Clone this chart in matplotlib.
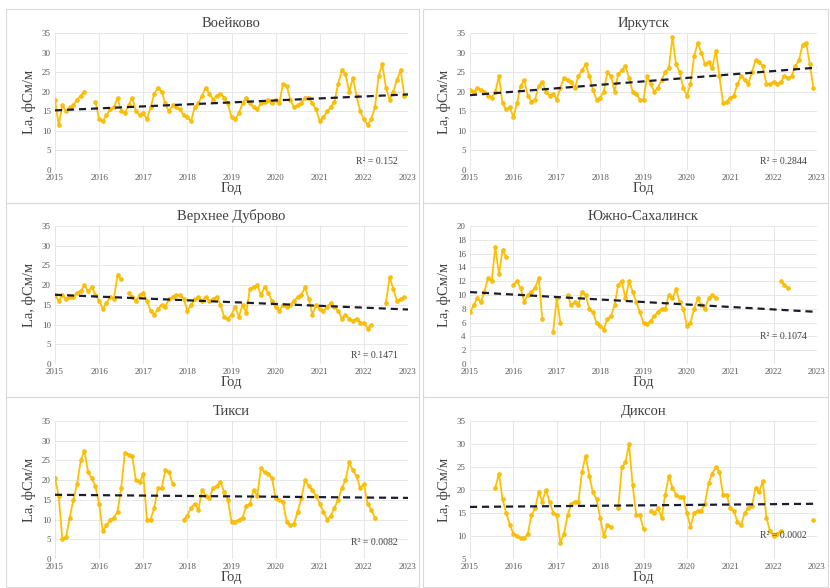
import numpy as np
import matplotlib
matplotlib.use("Agg")
import matplotlib.pyplot as plt
from matplotlib.patches import Rectangle

nan = np.nan

# monthly values from Jan 2015 to Dec 2022
voeikovo = [18, 11.5, 16.5, 15, 16, 16.5, 18, 19, 20, nan, nan, 17.5,
            13, 12.5, 14, 15.5, 16, 18.5, 15, 14.5, 16.5, 18.5, 15, 14,
            14.5, 13, 16, 19.5, 21, 20, 17, 15, 16.5, 16, 15.5, 14,
            13.5, 12.5, 16, 17, 19, 21, 19.5, 18, 19, 19.5, 18.5, 17,
            13.5, 13, 14.5, 17, 18.5, 17, 16, 15.5, 17, 17.5, 18, 17,
            18, 17, 22, 21.5, 18, 16, 16.5, 17, 18.5, 18.5, 17, 15.5,
            12.5, 13.5, 15, 16, 17.5, 22, 25.5, 24.5, 20, 23.5, 19, 15,
            13, 11.5, 13, 16, 24, 27, 21, 18, 20, 23, 25.5, 19]

irkutsk = [20.5, 20, 21, 20.5, 20, 19, 18.5, 20, 24, 17, 15.5, 16,
           13.5, 17, 21.5, 23, 19, 17.5, 18, 21.5, 22.5, 20, 19, 19.5,
           18, 21, 23.5, 23, 22.5, 21, 24, 25.5, 27, 24, 20.5, 18,
           18.5, 20, 25, 24, 20, 24.5, 25.5, 26.5, 23.5, 20, 19.5, 18,
           18, 24, 22, 20, 21, 23, 25, 26, 34, 27, 25, 21,
           19, 22, 29, 32.5, 30, 27, 27.5, 26, 30.5, 24, 17, 17.5,
           18.5, 19, 22, 24, 23, 22, 25, 28, 27.5, 26.5, 22, 22,
           22.5, 22, 22.5, 24, 23.5, 24, 26.5, 28, 32, 32.5, 27, 21]

dubrovo = [17.5, 16, 17.5, 16.5, 17, 17, 18, 18.5, 20, 18.5, 19.5, 17.5,
           16, 14, 15.5, 17, 16.5, 22.5, 21.5, nan, 18, 17, 16, 17.5,
           18, 16, 13.5, 12.5, 14, 15, 14.5, 16.5, 17, 17.5, 17.5, 16.5,
           13.5, 15, 16.5, 17, 16, 17, 16, 16.5, 17, 15, 12, 11.5,
           12.5, 14.5, 12, 15, 13, 19, 19.5, 20, 17.5, 19.5, 18, 16,
           14.5, 13.5, 15, 14.5, 15, 16, 17, 17.5, 19.5, 16.5, 12.5, 15,
           14, 13.5, 14.5, 15.5, 14.5, 13.5, 11.5, 12.5, 11.5, 11, 11.5, 10.5,
           10.5, 9, 10, nan, nan, nan, 15.5, 22, 19, 16, 16.5, 17]

sakhalinsk = [7.5, 8.5, 9.5, 9, 10.5, 12.5, 12, 17, 13, 16.5, 15.5, nan,
              11.5, 12, 11, 9, 10, 10.5, 11, 12.5, 6.5, nan, nan, 4.7,
              9.5, 6, nan, 10, 8.5, 9, 8.5, 10.5, 10, 8, 7.5, 6,
              5.5, 5, 6.5, 7, 8.5, 11.5, 12, 9.5, 12, 10.5, 9, 7.5,
              6, 5.8, 6.3, 7, 7.5, 8, 8, 10, 9.5, 10.8, 9, 8,
              5.5, 6, 8, 9.5, 8.5, 8, 9.5, 10, 9.5, nan, nan, nan,
              nan, nan, nan, nan, nan, nan, nan, nan, nan, nan, nan, nan,
              nan, nan, 12, 11.5, 11, nan, nan, nan, nan, nan, nan, nan]

tiksi = [20.5, 16, 5, 5.5, 10.5, 15, 19, 25, 27.5, 22, 20.5, 18.5,
         14, 7, 8.5, 10, 10.5, 12, 18, 27, 26.5, 26, 20, 19.5,
         21.5, 10, 10, 13, 18, 18, 22.5, 22, 19, nan, nan, 10,
         11, 13, 14, 12.5, 17.5, 16, 15.5, 18, 18.5, 19.5, 17, 15,
         9.5, 9.5, 10, 10.5, 13.5, 14, 17.5, 16, 23, 22, 21.5, 20.5,
         15.5, 15, 14.5, 9.5, 8.5, 9, 12, 15.5, 20, 18.5, 17.5, 16,
         14, 12, 10, 11, 13, 15, 18, 20, 24.5, 22.5, 21, 18,
         19, 14, 12.5, 10.5, nan, nan, nan, nan, nan, nan, nan, nan]

dikson = [nan, nan, nan, nan, nan, nan, nan, 20.5, 23.5, 18, 15, 12.5,
          10.5, 10, 9.5, 9.5, 10.5, 14.5, 16, 19.5, 17.5, 20, 17.5, 15,
          14.5, 8.5, 10.5, 14.5, 17, 17.5, 17.5, 24, 27.5, 23, 19.5, 18,
          14, 10, 12.5, 12, nan, 16, 25, 26, 30, 21, 14.5, 14.5,
          11.5, nan, 15.5, 15, 16, 14, 19, 23, 20.5, 19, 18.5, 18.5,
          15, 12, 15, 15.5, 15.5, 17, 21.5, 23.5, 25, 24, 19, 19,
          16, 15.5, 13, 12.5, 15, 16, 16.5, 20.5, 19.5, 22, 14, 11,
          10, 10.5, 11, nan, nan, nan, nan, nan, nan, nan, nan, 13.5]

titles = ["Воейково", "Иркутск", "Верхнее Дуброво", "Южно-Сахалинск", "Тикси", "Диксон"]
r2_labels = ["R² = 0.152", "R² = 0.2844", "R² = 0.1471", "R² = 0.1074", "R² = 0.0082", "R² = 0.0002"]
year_ticks = [2015, 2016, 2017, 2018, 2019, 2020, 2021, 2022, 2023]

series = [voeikovo, irkutsk, dubrovo, sakhalinsk, tiksi, dikson]
ylims = [(0, 35), (0, 35), (0, 35), (0, 20), (0, 35), (5, 35)]
ysteps = [5, 5, 5, 2, 5, 5]
r2_pos = [0.06, 0.06, 0.06, 0.2, 0.12, 0.17]

plt.rcParams['font.family'] = ['Liberation Serif', 'DejaVu Serif']

fig = plt.figure(figsize=(8.3, 5.88), dpi=100)
W, H = 830, 588

# panel frames
col_x = [(6, 419), (423, 828)]
row_y = [(9, 203), (203, 397), (397, 587)]
for (y0, y1) in row_y:
    for (x0, x1) in col_x:
        fig.add_artist(Rectangle((x0 / W, 1 - y1 / H), (x1 - x0) / W, (y1 - y0) / H,
                                 transform=fig.transFigure, fill=False,
                                 edgecolor='#d9d9d9', linewidth=0.8))

ax_x = [55, 470]
ax_w = [353, 347]
ax_rows = [(33, 170), (226, 364), (421, 559)]

months = 2015 + np.arange(96) / 12.0

for k in range(6):
    r, c = divmod(k, 2)
    top, bot = ax_rows[r]
    ax = fig.add_axes([ax_x[c] / W, 1 - bot / H, ax_w[c] / W, (bot - top) / H])
    y = np.array(series[k], dtype=float)
    ax.plot(months, y, color='#FFC000', linewidth=1.3, marker='o',
            markersize=2.8, markerfacecolor='#FFC000', markeredgecolor='#F0B400',
            markeredgewidth=0.4, zorder=3)
    m = ~np.isnan(y)
    p = np.polyfit(months[m], y[m], 1)
    xt = np.array([2015.0, 2023.0])
    ax.plot(xt, np.polyval(p, xt), color='#1c1c30', linewidth=1.6,
            linestyle=(0, (3.2, 2.2)), zorder=4)
    ax.set_xlim(2015, 2023)
    lo, hi = ylims[k]
    ax.set_ylim(lo, hi)
    ax.set_xticks(year_ticks)
    ax.set_xticklabels([str(v) for v in year_ticks])
    ax.set_yticks(np.arange(lo, hi + 0.1, ysteps[k]))
    ax.tick_params(length=0, labelsize=6.5, colors='#595959', pad=3)
    for s in ax.spines.values():
        s.set_visible(False)
    ax.grid(True, color='#e3e3e3', linewidth=0.6)
    ax.set_axisbelow(True)
    ax.set_title(titles[k], fontsize=10.5, color='#404040', pad=4)
    ax.set_xlabel("Год", fontsize=10.5, color='#404040', labelpad=0)
    ax.set_ylabel("La, фСм/м", fontsize=10.5, color='#404040', labelpad=4)
    ax.text(0.97, r2_pos[k], r2_labels[k], transform=ax.transAxes,
            ha='right', va='center', fontsize=7, color='#404040')

fig.savefig("out.png", dpi=100)
